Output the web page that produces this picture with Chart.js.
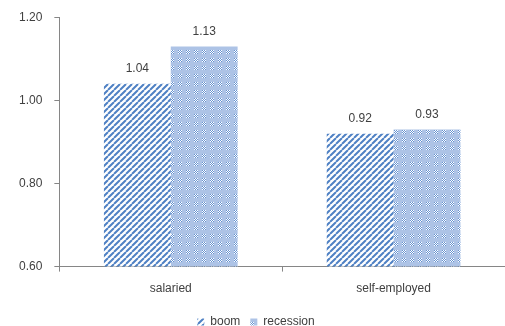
<!DOCTYPE html>
<html>
<head>
<meta charset="utf-8">
<script src="https://cdn.jsdelivr.net/npm/chart.js@4/dist/chart.umd.min.js"></script>
<style>
  html, body { margin: 0; padding: 0; background: #fff; }
  #wrap { width: 505px; height: 326px; }
</style>
</head>
<body>
<div id="wrap"><canvas id="chart"></canvas></div>
<script>
const categories = ["salaried", "self-employed"];
const boom = [1.04, 0.92];
const recession = [1.13, 0.93];
const yTicks = [0.6, 0.8, 1.0, 1.2];

// diagonal "/" hatch, blue on white
function stripePattern() {
  const c = document.createElement("canvas");
  c.width = 6; c.height = 6;
  const g = c.getContext("2d");
  g.fillStyle = "#ffffff";
  g.fillRect(0, 0, 6, 6);
  g.strokeStyle = "#4f81c4";
  g.lineWidth = 2;
  g.beginPath();
  for (let k = -6; k <= 12; k += 6) {
    g.moveTo(k, 6);
    g.lineTo(k + 6, 0);
  }
  g.stroke();
  return g.createPattern(c, "repeat");
}

// light blue with small checker blocks
function dotPattern() {
  const c = document.createElement("canvas");
  c.width = 8; c.height = 8;
  const g = c.getContext("2d");
  g.fillStyle = "#adc3e6";
  g.fillRect(0, 0, 8, 8);
  for (let y = 0; y < 4; y++) {
    for (let x = 0; x < 4; x++) {
      g.fillStyle = (x + y) % 2 ? "#ffffff" : "#6592d0";
      g.fillRect(2 + x, 2 + y, 1, 1);
    }
  }
  return g.createPattern(c, "repeat");
}

const boomFill = stripePattern();
const recFill = dotPattern();

const valueLabels = {
  id: "valueLabels",
  afterDatasetsDraw(chart) {
    const ctx = chart.ctx;
    ctx.save();
    ctx.font = "12px 'Liberation Sans', Arial, sans-serif";
    ctx.fillStyle = "#404040";
    ctx.textAlign = "center";
    ctx.textBaseline = "middle";
    chart.data.datasets.forEach((ds, i) => {
      chart.getDatasetMeta(i).data.forEach((bar, j) => {
        ctx.fillText(ds.data[j].toFixed(2), bar.x, bar.y - 15);
      });
    });
    ctx.restore();
  }
};

Chart.defaults.font.family = "'Liberation Sans', Arial, sans-serif";
Chart.defaults.font.size = 12;
Chart.defaults.color = "#404040";

new Chart(document.getElementById("chart"), {
  type: "bar",
  data: {
    labels: categories,
    datasets: [
      { label: "boom", data: boom, backgroundColor: boomFill, borderWidth: 0 },
      { label: "recession", data: recession, backgroundColor: recFill, borderWidth: 0 }
    ]
  },
  options: {
    responsive: true, maintainAspectRatio: false, animation: false,
    layout: { padding: { top: 5, right: 0, left: 7, bottom: -12 } },
    datasets: { bar: { categoryPercentage: 0.6, barPercentage: 1.0 } },
    plugins: {
      legend: {
        position: "bottom",
        labels: { boxWidth: 7, boxHeight: 7, padding: 10, color: "#404040" }
      },
      tooltip: { enabled: false }
    },
    scales: {
      x: {
        grid: { drawOnChartArea: false, tickLength: 5, color: "#868686" },
        border: { color: "#868686" },
        ticks: { padding: 10 }
      },
      y: {
        min: 0.6, max: 1.2,
        afterBuildTicks(axis) { axis.ticks = yTicks.map(v => ({ value: v })); },
        grid: { drawOnChartArea: false, tickLength: 5, color: "#868686" },
        border: { color: "#868686" },
        ticks: { padding: 12, font: { lineHeight: 0.9 }, callback: v => v.toFixed(2) }
      }
    }
  },
  plugins: [valueLabels]
});
</script>
</body>
</html>
